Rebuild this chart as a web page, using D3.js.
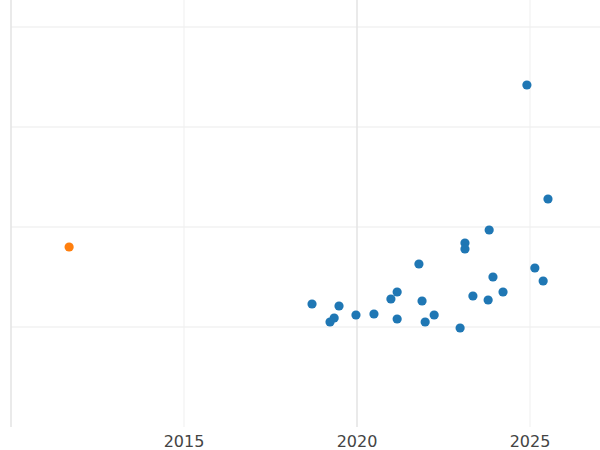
<!DOCTYPE html><html><head><meta charset="utf-8"><script src="https://cdn.jsdelivr.net/npm/d3@7"></script>
<style>body{margin:0;background:#fff}</style></head><body><svg id="c" width="600" height="450"></svg><script>
const xBlue=[2024.91,2025.52,2023.82,2023.12,2023.12,2021.79,2025.14,2023.93,2025.38,2021.16,2024.22,2023.35,2020.98,2023.79,2021.88,2018.70,2019.48,2019.97,2020.49,2022.23,2019.34,2021.16,2019.22,2021.97,2022.98];
const yBlue=[2.42,1.28,0.97,0.84,0.78,0.63,0.59,0.50,0.46,0.35,0.35,0.31,0.28,0.27,0.26,0.23,0.21,0.12,0.13,0.12,0.09,0.08,0.05,0.05,-0.01];
const xOrange=[2011.68];
const yOrange=[0.80];
const xTicks=[2015,2020,2025];
const yGrid=[0,1,2,3];
const svg=d3.select("#c");
const x=d3.scaleLinear().domain([2010,2025]).range([11,530]);
const y=d3.scaleLinear().domain([-1,3]).range([427,27]);
svg.append("g").selectAll("line").data(yGrid).join("line").attr("x1",11).attr("x2",600).attr("y1",d=>y(d)).attr("y2",d=>y(d)).attr("stroke","#ebebeb").attr("stroke-width",1);
svg.append("g").selectAll("line").data([2010,...xTicks]).join("line").attr("x1",d=>x(d)).attr("x2",d=>x(d)).attr("y1",0).attr("y2",427).attr("stroke",d=>d%10===0?"#e3e3e3":"#efefef").attr("stroke-width",d=>d%10===0?1.5:1);
svg.append("g").selectAll("text").data(xTicks).join("text").attr("x",d=>x(d)).attr("y",447).attr("text-anchor","middle").attr("font-family","DejaVu Sans").attr("font-size",16).attr("fill","#444").text(d=>d);
svg.append("g").selectAll("circle").data(xBlue.map((v,i)=>[v,yBlue[i]])).join("circle").attr("cx",d=>x(d[0])).attr("cy",d=>y(d[1])).attr("r",4.6).attr("fill","#1f77b4");
svg.append("g").selectAll("circle").data(xOrange.map((v,i)=>[v,yOrange[i]])).join("circle").attr("cx",d=>x(d[0])).attr("cy",d=>y(d[1])).attr("r",4.6).attr("fill","#ff7f0e");
</script></body></html>
